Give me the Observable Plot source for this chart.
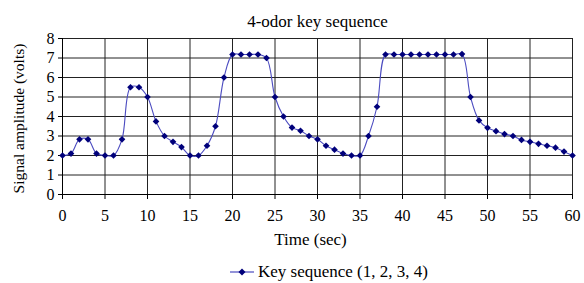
<!DOCTYPE html>
<html><head><meta charset="utf-8">
<script src="https://cdn.jsdelivr.net/npm/d3@7"></script>
<script src="https://cdn.jsdelivr.net/npm/@observablehq/plot@0.6"></script>
<style>
body{margin:0;background:#fff;font-family:"Liberation Serif","Times New Roman",serif}
#wrap{position:relative;width:584px;height:283px}
#chart svg, #chart svg text{font-family:"Liberation Serif","Times New Roman",serif !important}
#legend{position:absolute;left:230px;top:262px;height:20px;line-height:20px;white-space:nowrap;font-size:17px;color:#000;font-family:"Liberation Serif","Times New Roman",serif}
#legend svg{vertical-align:middle;margin-right:4px;position:relative;top:-1px}
</style>
</head><body><div id="wrap"><div id="chart"></div><div id="legend"></div></div>
<script>
const title = "4-odor key sequence";
const xLabel = "Time (sec)";
const yLabel = "Signal amplitude (volts)";
const seriesName = "Key sequence (1, 2, 3, 4)";
const times = [0,1,2,3,4,5,6,7,8,9,10,11,12,13,14,15,16,17,18,19,20,21,22,23,24,25,26,27,28,29,30,31,32,33,34,35,36,37,38,39,40,41,42,43,44,45,46,47,48,49,50,51,52,53,54,55,56,57,58,59,60];
const amplitude = [2.0,2.1,2.83,2.83,2.1,2.0,2.0,2.83,5.5,5.5,5.0,3.75,3.0,2.7,2.43,2.0,2.0,2.5,3.5,6.0,7.18,7.18,7.18,7.18,7.0,5.0,4.0,3.43,3.27,3.0,2.83,2.5,2.3,2.1,2.0,2.0,3.0,4.5,7.18,7.18,7.18,7.18,7.18,7.18,7.18,7.18,7.18,7.2,5.0,3.8,3.42,3.25,3.1,3.0,2.8,2.7,2.6,2.5,2.4,2.2,2.0];
const xTicks = [0,5,10,15,20,25,30,35,40,45,50,55,60];
const yTicks = [0,1,2,3,4,5,6,7,8];
const lineColor = "#4b4bc0";
const markColor = "#00007a";

const data = times.map((t,i)=>({t, v: amplitude[i]}));

const chart = Plot.plot({
  width: 584, height: 283,
  marginTop: 38, marginBottom: 89, marginLeft: 62, marginRight: 12,
  style: {fontFamily: '"Liberation Serif","Times New Roman",serif', fontSize: "16px", color: "#000", background: "#fff"},
  x: {domain: [0,60], ticks: xTicks, label: null},
  y: {domain: [0,8], ticks: yTicks, label: null},
  marks: [
    Plot.gridX(xTicks, {stroke: "#222", strokeOpacity: 1, strokeWidth: 1}),
    Plot.gridY(yTicks, {stroke: "#222", strokeOpacity: 1, strokeWidth: 1}),
    Plot.axisX({ticks: xTicks, tickSize: 5, tickPadding: 10, fontSize: 16, label: null, stroke: "#000"}),
    Plot.axisY({ticks: yTicks, tickSize: 4, tickPadding: 4, fontSize: 16, label: null, stroke: "#000"}),
    Plot.ruleY([0], {stroke: "#000"}),
    Plot.ruleX([0], {stroke: "#000"}),
    Plot.line(data, {x: "t", y: "v", curve: "catmull-rom", stroke: lineColor, strokeWidth: 1.1}),
    Plot.dot(data, {x: "t", y: "v", symbol: "diamond2", r: 3, fill: markColor, stroke: "none"}),
    Plot.text([title], {frameAnchor: "top", dy: -12, lineAnchor: "bottom", fontSize: 17, fill: "#000"}),
    Plot.text([xLabel], {frameAnchor: "bottom", dx: -7, dy: 50, fontSize: 17, fill: "#000"}),
    Plot.text([yLabel], {frameAnchor: "left", textAnchor: "middle", dx: -43, dy: 2, rotate: -90, fontSize: 15.5, fill: "#000"})
  ]
});
document.getElementById("chart").appendChild(chart);

const lg = document.getElementById("legend");
lg.innerHTML = `<svg width="24" height="10"><line x1="0" y1="5" x2="24" y2="5" stroke="${lineColor}" stroke-width="1.2"/><path d="M12 1.5L15.5 5L12 8.5L8.5 5Z" fill="${markColor}"/></svg>` ;
lg.appendChild(document.createTextNode(seriesName));
</script>
</body></html>
